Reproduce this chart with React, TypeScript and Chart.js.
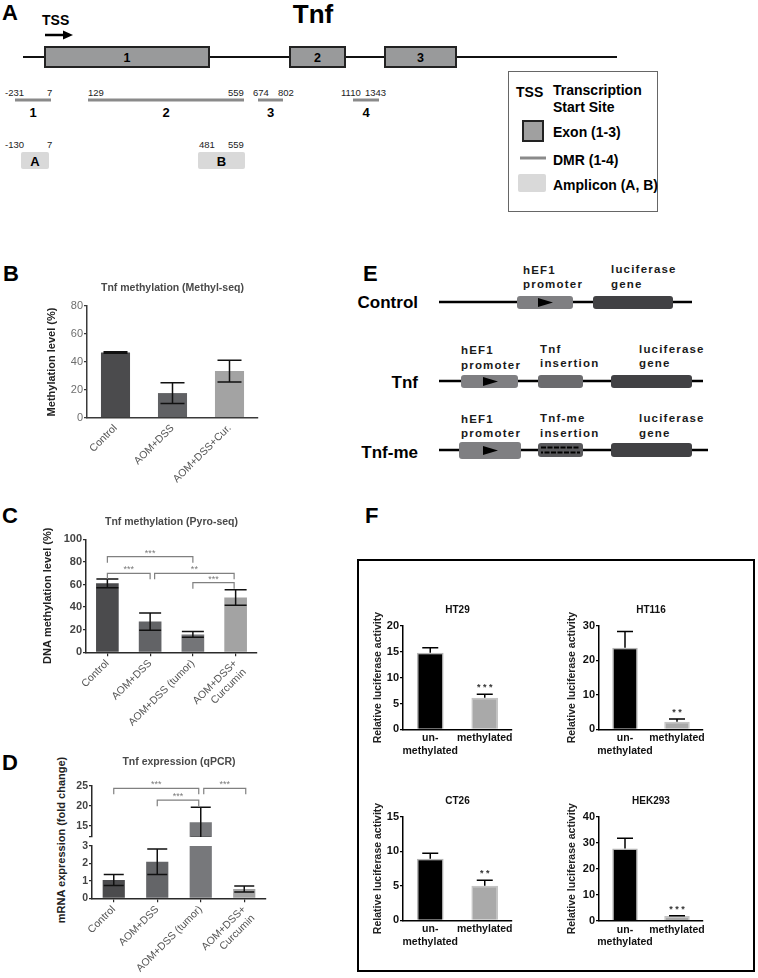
import React, { useEffect, useRef } from 'react';
import { Chart, registerables } from 'chart.js';

Chart.register(...registerables);

const FONT = '"Liberation Sans", Arial, Helvetica, sans-serif';

// ---------------- Panel B: Tnf methylation (Methyl-seq) ----------------
const bLabels = ['Control', 'AOM+DSS', 'AOM+DSS+Cur.'];
const bValues = [46.8, 17.8, 33.5];
const bErrors = [0.6, 7.4, 7.7];
const bColors = ['#4b4b4d', '#606164', '#a3a3a3'];

// ---------------- Panel C: Tnf methylation (Pyro-seq) ----------------
const cLabels = ['Control', 'AOM+DSS', 'AOM+DSS (tumor)', ['AOM+DSS+', 'Curcumin']];
const cValues = [61, 27.2, 15.8, 48.5];
const cErrors = [3.8, 7.6, 2.5, 6.8];
const cColors = ['#4b4b4d', '#626366', '#747578', '#a3a3a3'];
const cBrackets = [
  { from: 0, to: 2, y: 84.6, text: '***', d1: 0, d2: 0 },
  { from: 0, to: 1, y: 69.9, text: '***', d1: 0, d2: 0 },
  { from: 1, to: 3, y: 69.9, text: '**', d1: 4.5, d2: -1.5 },
  { from: 2, to: 3, y: 61.6, text: '***', d1: 0, d2: -1.5 },
];

// ---------------- Panel D: Tnf expression (qPCR) ----------------
const dLabels = ['Control', 'AOM+DSS', 'AOM+DSS (tumor)', ['AOM+DSS+', 'Curcumin']];
const dValues = [1.05, 2.1, 15.85, 0.53];
const dErrors = [0.32, 0.73, 3.75, 0.17];
const dColors = ['#4b4b4d', '#646568', '#77787b', '#a3a3a3'];
const dBrackets = [
  { from: 0, to: 2, y: 24.35, text: '***', d1: 0, d2: -2 },
  { from: 1, to: 2, y: 21.4, text: '***', d1: 0, d2: -2 },
  { from: 2, to: 3, y: 24.35, text: '***', d1: 3, d2: 1.5 },
];

// ---------------- Panel F: luciferase assays ----------------
const fLabels = [['un-', 'methylated'], 'methylated'];
const fColors = ['#000000', '#a9a9a9'];
const fBorders = ['#b5b5b5', '#c4c4c4'];
const ht29Values = [14.8, 6.1];
const ht29Errors = [1.0, 0.7];
const ht29Stars = ['', '* * *'];
const ht116Values = [23.7, 2.2];
const ht116Errors = [4.7, 0.8];
const ht116Stars = ['', '* *'];
const ct26Values = [8.9, 5.0];
const ct26Errors = [0.8, 0.8];
const ct26Stars = ['', '* *'];
const hek293Values = [27.8, 1.8];
const hek293Errors = [3.9, 0.15];
const hek293Stars = ['', '* * *'];

// ---------------------------------------------------------------
function overlayPlugin(s: any) {
  return {
    id: 'overlay',
    afterDatasetsDraw(chart: any) {
      const { ctx, chartArea: a } = chart;
      const ys = chart.scales.y;
      const meta = chart.getDatasetMeta(0);
      ctx.save();
      ctx.beginPath();
      ctx.rect(a.left - 30, a.top, a.right - a.left + 60, a.bottom - a.top);
      ctx.clip();
      ctx.strokeStyle = s.errColor || '#111';
      ctx.lineWidth = s.errWidth || 1.5;
      meta.data.forEach((bar: any, i: number) => {
        const v = s.values[i];
        const e = s.errors[i];
        const x = bar.x;
        const yt = ys.getPixelForValue(v + e);
        const yb = s.errUp ? ys.getPixelForValue(v) : ys.getPixelForValue(v - e);
        const hw = s.cap / 2;
        ctx.beginPath();
        ctx.moveTo(x, yt);
        ctx.lineTo(x, yb);
        ctx.moveTo(x - hw, yt);
        ctx.lineTo(x + hw, yt);
        if (!s.errUp) {
          ctx.moveTo(x - hw, yb);
          ctx.lineTo(x + hw, yb);
        }
        ctx.stroke();
      });
      ctx.restore();
    },
    afterDraw(chart: any) {
      const { ctx, chartArea: a } = chart;
      const ys = chart.scales.y;
      const meta = chart.getDatasetMeta(0);
      ctx.save();
      if (s.title) {
        ctx.font = s.titleFont;
        ctx.fillStyle = s.titleColor;
        ctx.textAlign = 'center';
        ctx.textBaseline = 'middle';
        ctx.fillText(s.title, (a.left + a.right) / 2, a.top - s.titleGap);
      }
      if (s.brackets) {
        ctx.strokeStyle = '#808080';
        ctx.lineWidth = 1.2;
        ctx.fillStyle = '#7a7a7a';
        ctx.font = '9px ' + FONT;
        ctx.textAlign = 'center';
        ctx.textBaseline = 'alphabetic';
        s.brackets.forEach((b: any) => {
          const x1 = meta.data[b.from].x + (b.d1 || 0);
          const x2 = meta.data[b.to].x + (b.d2 || 0);
          const y = ys.getPixelForValue(b.y);
          ctx.beginPath();
          ctx.moveTo(x1, y + 6);
          ctx.lineTo(x1, y);
          ctx.lineTo(x2, y);
          ctx.lineTo(x2, y + 6);
          ctx.stroke();
          ctx.fillText(b.text, (x1 + x2) / 2, y - 1);
        });
      }
      if (s.stars) {
        ctx.fillStyle = '#333';
        ctx.font = 'bold 9px ' + FONT;
        ctx.textAlign = 'center';
        ctx.textBaseline = 'alphabetic';
        s.stars.forEach((t: string, i: number) => {
          if (!t) return;
          const y = ys.getPixelForValue(s.values[i] + s.errors[i]);
          ctx.fillText(t, meta.data[i].x, y - 4);
        });
      }
      ctx.restore();
    },
  };
}

function buildConfig(s: any) {
  const c = s.canvas;
  const a = s.area;
  const showX = s.showX !== false;
  const padBottom = showX ? s.padBottom || 0 : c.top + c.height - a.bottom;
  const yWidth = a.left - c.left;
  const xHeight = c.top + c.height - padBottom - a.bottom;
  const axis = s.axisColor || '#2a2a2a';
  const yTitleSize = s.yTitleSize || 11;
  const xScale: any = {
    display: showX,
    offset: true,
    grid: {
      display: !!s.xTicks,
      drawOnChartArea: false,
      drawTicks: !!s.xTicks,
      tickLength: 4,
      color: axis,
      lineWidth: 1.2,
      offset: false,
    },
    border: { display: true, color: axis, width: 1.5, z: 1 },
    ticks: {
      autoSkip: false,
      minRotation: s.xRot,
      maxRotation: s.xRot,
      font: s.xFont,
      color: s.xColor,
      padding: s.xPad == null ? 2 : s.xPad,
    },
  };
  if (showX) {
    xScale.afterFit = (sc: any) => {
      sc.height = xHeight;
    };
  }
  return {
    type: 'bar',
    data: {
      labels: s.labels,
      datasets: [
        {
          data: s.values,
          backgroundColor: s.colors,
          borderColor: s.borderColors || s.colors,
          borderWidth: s.borderWidth || 0,
          barPercentage: s.barPct,
          categoryPercentage: 1,
          clip: 0,
        },
      ],
    },
    options: {
      responsive: false,
      animation: false,
      events: [],
      layout: {
        padding: {
          left: 0,
          top: a.top - c.top,
          right: c.left + c.width - a.right,
          bottom: padBottom,
        },
      },
      plugins: {
        legend: { display: false },
        tooltip: { enabled: false },
        title: { display: false },
      },
      scales: {
        x: xScale,
        y: {
          min: s.yMin,
          max: s.yMax,
          grid: {
            display: true,
            drawOnChartArea: false,
            drawTicks: true,
            tickLength: 3,
            color: axis,
            lineWidth: 1.2,
          },
          border: { display: true, color: axis, width: 1.5, z: 1 },
          ticks: {
            stepSize: s.yStep,
            font: s.yFont,
            color: s.yColor,
            padding: 1,
            callback: (v: number) => (s.yShow ? (s.yShow(v) ? String(v) : '') : String(v)),
          },
          title: s.yTitle
            ? {
                display: true,
                text: s.yTitle,
                font: { family: FONT, size: yTitleSize, weight: 'bold' },
                color: '#222',
                padding: { top: s.yTitleX - c.left - (yTitleSize * 1.2) / 2, bottom: 0 },
              }
            : { display: false },
          afterFit: (sc: any) => {
            sc.width = yWidth;
          },
        },
      },
    },
    plugins: [overlayPlugin(s)],
  };
}

function BarPanel({ spec }: { spec: any }) {
  const ref = useRef<HTMLCanvasElement>(null);
  useEffect(() => {
    const chart = new Chart(ref.current as HTMLCanvasElement, buildConfig(spec) as any);
    return () => chart.destroy();
  }, []);
  const c = spec.canvas;
  return (
    <canvas
      ref={ref}
      width={c.width}
      height={c.height}
      style={{ position: 'absolute', left: c.left, top: c.top, width: c.width, height: c.height }}
    />
  );
}

const titleFont = 'bold 10.5px ' + FONT;
const xLabelFont = { family: FONT, size: 10.5, weight: 'normal' as const };
const boldTick = { family: FONT, size: 11, weight: 'bold' as const };

const specB = {
  canvas: { left: 0, top: 268, width: 270, height: 222 },
  area: { left: 87, top: 306, right: 258, bottom: 418 },
  labels: bLabels, values: bValues, errors: bErrors, colors: bColors,
  barPct: 0.51, cap: 24,
  yMin: 0, yMax: 80, yStep: 20,
  yFont: { family: FONT, size: 11, weight: 'normal' }, yColor: '#6e6e6e',
  yTitle: 'Methylation level (%)', yTitleX: 52,
  xRot: 45, xFont: xLabelFont, xColor: '#555', xTicks: false, xPad: 4,
  title: 'Tnf methylation (Methyl-seq)', titleGap: 18, titleFont, titleColor: '#4a4a4a',
  axisColor: '#3a3a3a',
};

const specC = {
  canvas: { left: 0, top: 505, width: 270, height: 245 },
  area: { left: 86, top: 539.3, right: 257, bottom: 652.3 },
  labels: cLabels, values: cValues, errors: cErrors, colors: cColors,
  barPct: 0.53, cap: 22,
  yMin: 0, yMax: 100, yStep: 20,
  yFont: boldTick, yColor: '#444',
  yTitle: 'DNA methylation level (%)', yTitleX: 48,
  xRot: 45, xFont: xLabelFont, xColor: '#555', xTicks: true, xPad: 1,
  title: 'Tnf methylation (Pyro-seq)', titleGap: 17.3, titleFont, titleColor: '#4a4a4a',
  brackets: cBrackets,
};

const specDUpper = {
  canvas: { left: 0, top: 745, width: 280, height: 102 },
  area: { left: 92, top: 785.7, right: 266, bottom: 837 },
  showX: false,
  labels: dLabels, values: dValues, errors: dErrors, colors: dColors,
  barPct: 0.51, cap: 20,
  yMin: 12.2, yMax: 25, yStep: 5, yShow: (v: number) => v % 5 === 0,
  yFont: { family: FONT, size: 10.5, weight: 'bold' }, yColor: '#444',
  xRot: 45, xFont: xLabelFont, xColor: '#555',
  title: 'Tnf expression (qPCR)', titleGap: 23.7, titleFont, titleColor: '#4a4a4a',
  brackets: dBrackets,
};

const specDLower = {
  canvas: { left: 0, top: 834, width: 280, height: 144 },
  area: { left: 92, top: 846, right: 266, bottom: 898.3 },
  labels: dLabels, values: dValues, errors: dErrors, colors: dColors,
  barPct: 0.51, cap: 20,
  yMin: 0, yMax: 3, yStep: 1,
  yFont: { family: FONT, size: 10.5, weight: 'bold' }, yColor: '#444',
  xRot: 45, xFont: xLabelFont, xColor: '#555', xTicks: true, xPad: 1,
};

const fTick = { family: FONT, size: 11, weight: 'bold' as const };
const fX = { family: FONT, size: 10.5, weight: 'bold' as const };
function fSpec(canvas: any, area: any, title: string, values: number[], errors: number[], stars: string[], yMax: number, yStep: number, yTitleX: number, titleGap: number) {
  return {
    canvas, area, labels: fLabels, values, errors, colors: fColors, borderColors: fBorders, borderWidth: 1.5,
    barPct: 0.49, cap: 16, errUp: true, errColor: '#000',
    yMin: 0, yMax, yStep, yFont: fTick, yColor: '#111',
    yTitle: 'Relative luciferase activity', yTitleX, yTitleSize: 10.5,
    xRot: 0, xFont: fX, xColor: '#111', xTicks: false, xPad: 3,
    title, titleGap, titleFont: 'bold 10px ' + FONT, titleColor: '#111',
    stars, axisColor: '#000',
  };
}

const specHT29 = fSpec({ left: 362, top: 594, width: 180, height: 172 }, { left: 403, top: 626, right: 512, bottom: 729.3 }, 'HT29', ht29Values, ht29Errors, ht29Stars, 20, 5, 378, 16);
const specHT116 = fSpec({ left: 556, top: 594, width: 180, height: 172 }, { left: 599, top: 626, right: 703, bottom: 729.3 }, 'HT116', ht116Values, ht116Errors, ht116Stars, 30, 10, 572, 16);
const specCT26 = fSpec({ left: 362, top: 785, width: 180, height: 172 }, { left: 403, top: 816.7, right: 512, bottom: 920.3 }, 'CT26', ct26Values, ct26Errors, ct26Stars, 15, 5, 378, 15);
const specHEK = fSpec({ left: 556, top: 785, width: 180, height: 172 }, { left: 599, top: 816.7, right: 703, bottom: 920.7 }, 'HEK293', hek293Values, hek293Errors, hek293Stars, 40, 10, 572, 15);

// ---------------- diagrams (panels A and E) ----------------
const exons = [
  { x1: 45, x2: 209, label: '1' },
  { x1: 290, x2: 345, label: '2' },
  { x1: 385, x2: 456, label: '3' },
];
const dmrs = [
  { x1: 15, x2: 51, label: '1', a: '-231', ax: 5, b: '7', bx: 47 },
  { x1: 88, x2: 244, label: '2', a: '129', ax: 88, b: '559', bx: 228 },
  { x1: 258, x2: 283, label: '3', a: '674', ax: 253, b: '802', bx: 278 },
  { x1: 353, x2: 379, label: '4', a: '1110', ax: 341, b: '1343', bx: 365 },
];
const amplicons = [
  { x1: 21, x2: 49, label: 'A', a: '-130', ax: 5, b: '7', bx: 47 },
  { x1: 198, x2: 245, label: 'B', a: '481', ax: 199, b: '559', bx: 228 },
];

function Tri({ cx, cy }: { cx: number; cy: number }) {
  return <polygon points={`${cx - 7},${cy - 4.5} ${cx + 8},${cy} ${cx - 7},${cy + 4.5}`} fill="#000" />;
}

function ELabel({ x, y, lines }: { x: number; y: number; lines: string[] }) {
  return (
    <g>
      {lines.map((t, i) => (
        <text key={i} x={x} y={y + i * 14.5} fontSize={11.5} fontWeight="bold" letterSpacing={1.2} fill="#1a1a1a">
          {t}
        </text>
      ))}
    </g>
  );
}

function Diagrams() {
  const dmrColor = '#8a8a8a';
  return (
    <svg width={758} height={978} style={{ position: 'absolute', left: 0, top: 0 }} fontFamily={FONT}>
      {/* panel letters */}
      <text x={2} y={20} fontSize={22} fontWeight="bold">A</text>
      <text x={3} y={281} fontSize={22} fontWeight="bold">B</text>
      <text x={2} y={523} fontSize={22} fontWeight="bold">C</text>
      <text x={2} y={770} fontSize={22} fontWeight="bold">D</text>
      <text x={363} y={281} fontSize={22} fontWeight="bold">E</text>
      <text x={365} y={523} fontSize={22} fontWeight="bold">F</text>

      {/* Panel A */}
      <text x={313} y={23} fontSize={26} fontWeight="bold" textAnchor="middle">Tnf</text>
      <text x={42} y={25} fontSize={14} fontWeight="bold">TSS</text>
      <line x1={45} y1={35} x2={65} y2={35} stroke="#000" strokeWidth={2.5} />
      <polygon points="63,30.5 73,35 63,39.5" fill="#000" />
      <line x1={23} y1={57} x2={617} y2={57} stroke="#111" strokeWidth={2} />
      {exons.map((e) => (
        <g key={e.label}>
          <rect x={e.x1} y={47} width={e.x2 - e.x1} height={20} fill="#999a9b" stroke="#222" strokeWidth={2} />
          <text x={(e.x1 + e.x2) / 2} y={62} fontSize={12.5} fontWeight="bold" textAnchor="middle">{e.label}</text>
        </g>
      ))}
      {dmrs.map((d) => (
        <g key={d.label}>
          <line x1={d.x1} y1={100} x2={d.x2} y2={100} stroke={dmrColor} strokeWidth={3} />
          <text x={d.ax} y={96} fontSize={9.5} fill="#222">{d.a}</text>
          <text x={d.bx} y={96} fontSize={9.5} fill="#222">{d.b}</text>
          <text x={(d.x1 + d.x2) / 2} y={117} fontSize={13} fontWeight="bold" textAnchor="middle">{d.label}</text>
        </g>
      ))}
      {amplicons.map((d) => (
        <g key={d.label}>
          <rect x={d.x1} y={152} width={d.x2 - d.x1} height={17} rx={2} fill="#d9d9d9" />
          <text x={d.ax} y={148} fontSize={9.5} fill="#222">{d.a}</text>
          <text x={d.bx} y={148} fontSize={9.5} fill="#222">{d.b}</text>
          <text x={(d.x1 + d.x2) / 2} y={166} fontSize={13} fontWeight="bold" textAnchor="middle">{d.label}</text>
        </g>
      ))}
      {/* legend */}
      <rect x={508.5} y={71.5} width={149} height={140} fill="#fff" stroke="#666" strokeWidth={1} />
      <text x={516} y={97} fontSize={14} fontWeight="bold">TSS</text>
      <text x={553} y={95} fontSize={14} fontWeight="bold">Transcription</text>
      <text x={553} y={112} fontSize={14} fontWeight="bold">Start Site</text>
      <rect x={523} y={121} width={20} height={20} fill="#a0a0a0" stroke="#222" strokeWidth={2} />
      <text x={553} y={137} fontSize={14} fontWeight="bold">Exon (1-3)</text>
      <line x1={520} y1={158} x2={546} y2={158} stroke={dmrColor} strokeWidth={3} />
      <text x={553} y={165} fontSize={14} fontWeight="bold">DMR (1-4)</text>
      <rect x={518} y={174} width={28} height={18} rx={2} fill="#d9d9d9" />
      <text x={553} y={190} fontSize={14} fontWeight="bold">Amplicon (A, B)</text>

      {/* Panel E */}
      <text x={418} y={308} fontSize={17} fontWeight="bold" textAnchor="end">Control</text>
      <line x1={439} y1={302} x2={692} y2={302} stroke="#000" strokeWidth={2.5} />
      <rect x={517} y={296} width={56} height={13} rx={3} fill="#7f7f82" />
      <Tri cx={545} cy={302.5} />
      <rect x={593} y={296} width={80} height={13} rx={3} fill="#414144" />
      <ELabel x={523} y={273.5} lines={['hEF1', 'promoter']} />
      <ELabel x={611} y={273} lines={['luciferase', 'gene']} />

      <text x={418} y={388} fontSize={17} fontWeight="bold" textAnchor="end">Tnf</text>
      <line x1={439} y1={381} x2={703} y2={381} stroke="#000" strokeWidth={2.5} />
      <rect x={461} y={375} width={57} height={13} rx={3} fill="#7f7f82" />
      <Tri cx={490} cy={381.5} />
      <rect x={538} y={375} width={45} height={13} rx={3} fill="#6b6b6e" />
      <rect x={611} y={375} width={81} height={13} rx={3} fill="#414144" />
      <ELabel x={461} y={354} lines={['hEF1', 'promoter']} />
      <ELabel x={540} y={352.5} lines={['Tnf', 'insertion']} />
      <ELabel x={639} y={352.5} lines={['luciferase', 'gene']} />

      <text x={418} y={458} fontSize={17} fontWeight="bold" textAnchor="end">Tnf-me</text>
      <line x1={439} y1={450} x2={708} y2={450} stroke="#000" strokeWidth={2.5} />
      <rect x={459} y={442} width={62} height={17} rx={3} fill="#7f7f82" />
      <Tri cx={490} cy={450.5} />
      <rect x={538} y={443} width={45} height={14} rx={3} fill="#58585b" />
      <line x1={541} y1={447.5} x2={580} y2={447.5} stroke="#000" strokeWidth={2} strokeDasharray="5 1.5" />
      <line x1={541} y1={452.5} x2={580} y2={452.5} stroke="#000" strokeWidth={2} strokeDasharray="5 1.5" strokeDashoffset={3} />
      <rect x={611} y={443} width={81} height={14} rx={3} fill="#414144" />
      <ELabel x={461} y={422.7} lines={['hEF1', 'promoter']} />
      <ELabel x={540} y={422} lines={['Tnf-me', 'insertion']} />
      <ELabel x={639} y={422} lines={['luciferase', 'gene']} />

      {/* Panel F frame */}
      <rect x={358} y={560} width={396} height={411} fill="none" stroke="#000" strokeWidth={2} />

      {/* Panel D y-axis title spanning the broken axis */}
      <text x={0} y={0} fontSize={11} fontWeight="bold" fill="#222" textAnchor="middle" transform="translate(65,840) rotate(-90)">
        mRNA expression (fold change)
      </text>
    </svg>
  );
}

export default function App() {
  return (
    <div style={{ position: 'absolute', left: 0, top: 0, width: 758, height: 978, background: '#fff', overflow: 'hidden', fontFamily: FONT }}>
      <Diagrams />
      <BarPanel spec={specB} />
      <BarPanel spec={specC} />
      <BarPanel spec={specDUpper} />
      <BarPanel spec={specDLower} />
      <BarPanel spec={specHT29} />
      <BarPanel spec={specHT116} />
      <BarPanel spec={specCT26} />
      <BarPanel spec={specHEK} />
    </div>
  );
}
